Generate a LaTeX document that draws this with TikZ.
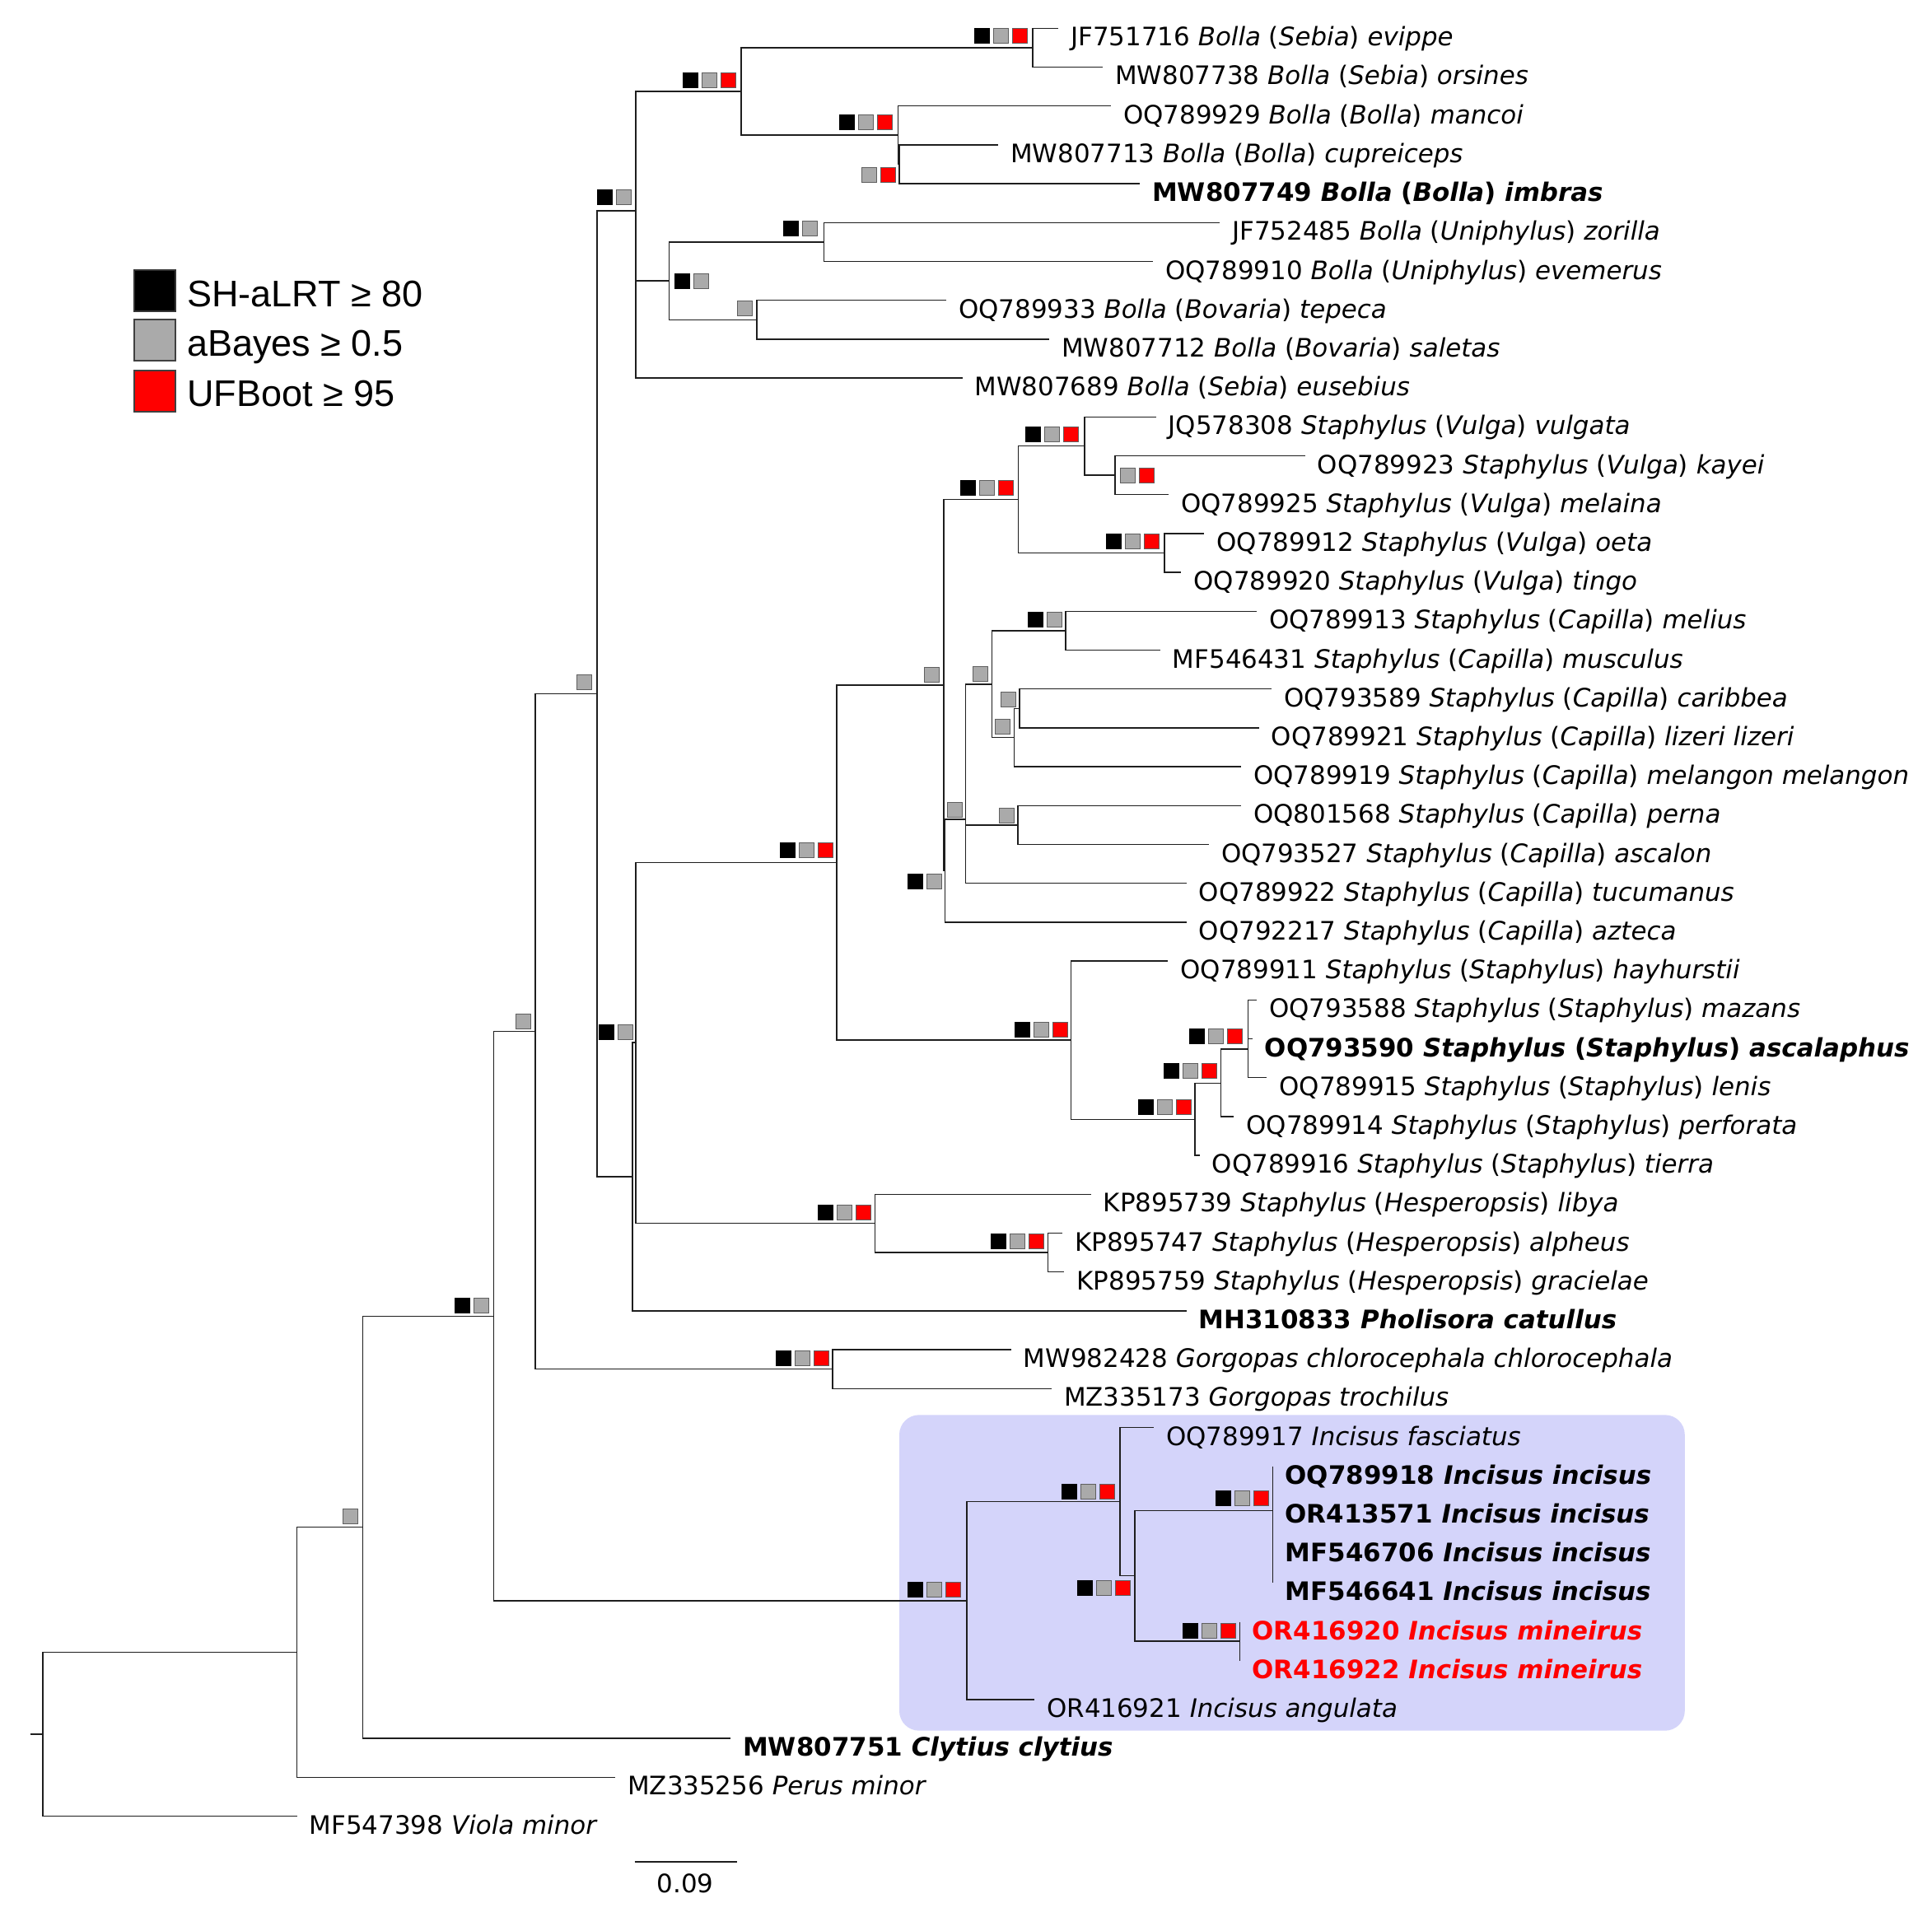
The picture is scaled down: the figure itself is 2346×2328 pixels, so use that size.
\documentclass[tikz,border=0pt]{standalone}
\usepackage{fontspec}
\setmainfont{DejaVu Sans}
\newfontfamily\legfont{Liberation Sans}
\definecolor{linec}{RGB}{30,30,30}
\definecolor{boxc}{RGB}{212,212,250}
\definecolor{sqgray}{RGB}{170,170,170}
\definecolor{sqedge}{RGB}{95,95,95}
\definecolor{tred}{RGB}{255,0,0}
\newcommand\bx[3]{\filldraw[#3] (#1,#2) rectangle ++(18,18);}
\newcommand\sKGR[2]{\bx{#1}{#2}{sk}\bx{#1+23}{#2}{sg}\bx{#1+46}{#2}{sr}}
\newcommand\sKG[2]{\bx{#1}{#2}{sk}\bx{#1+23}{#2}{sg}}
\newcommand\sGR[2]{\bx{#1}{#2}{sg}\bx{#1+23}{#2}{sr}}
\newcommand\sG[2]{\bx{#1}{#2}{sg}}
\newcommand\tip[4]{\coordinate (#1) at (#2,#3);\node[lab] (#1l) at (#2+15,#3+21.5) {#4};}
\newcommand\tx[4]{#1 \textit{#2} (\textit{#3}) \textit{#4}}
\newcommand\tb[2]{#1 \textit{#2}}
\begin{document}
\begin{tikzpicture}[x=1pt,y=-1pt,
  br/.style={line width=1.5pt, draw=linec},
  lab/.style={anchor=base west, inner sep=0pt, font={\fontsize{30.9}{36}\selectfont}},
  sk/.style={fill=black, draw=black, line width=1pt},
  sg/.style={fill=sqgray, draw=sqedge, line width=1pt},
  sr/.style={fill=red, draw=sqedge, line width=1pt},
  lk/.style={fill=black, draw=black!80, line width=2pt},
  lg/.style={fill=sqgray, draw=black!75, line width=2pt},
  lr/.style={fill=red, draw=black!75, line width=2pt},
  legt/.style={anchor=base west, inner sep=0pt, font={\legfont\fontsize{45}{52}\selectfont}}]
\useasboundingbox (0,0) rectangle (2346,2328);
\fill[boxc, rounded corners=24pt] (1092,1718.3) rectangle (2045.8,2101.7);

% internal nodes
\coordinate (R0) at (36.6,2106);
\coordinate (R) at (51.8,2106);
\coordinate (A) at (360.7,2006.5);
\coordinate (B) at (440.6,1854.7);
\coordinate (C) at (599.6,1598.3);
\coordinate (D) at (650,1252.6);
\coordinate (E) at (725,842.5);
\coordinate (F) at (772,256);
\coordinate (F1) at (900,111);
\coordinate (SE) at (1254,57.9);
\coordinate (BB) at (1090.5,164.1);
\coordinate (BB2) at (1092,199.5);
\coordinate (U) at (812.6,341.1);
\coordinate (UN) at (1000.6,293.9);
\coordinate (BO) at (919,388.3);
\coordinate (G) at (768,1429);
\coordinate (H) at (772,1266);
\coordinate (BS) at (1016,1047.4);
\coordinate (VC) at (1146,831.8);
\coordinate (V) at (1236.7,606.6);
\coordinate (V1) at (1316.8,541.7);
\coordinate (V2) at (1354,577.1);
\coordinate (V3) at (1413.8,671.5);
\coordinate (X) at (1147.5,1057.5);
\coordinate (Y) at (1172.4,995);
\coordinate (C0) at (1204.6,831);
\coordinate (C1) at (1293.9,765.9);
\coordinate (C2) at (1231.6,895.7);
\coordinate (C3) at (1237.8,860.3);
\coordinate (PA) at (1236,1001.9);
\coordinate (S0) at (1300.7,1263);
\coordinate (S1) at (1451,1359.4);
\coordinate (S2) at (1482.7,1315.7);
\coordinate (S3) at (1515.3,1274);
\coordinate (HE) at (1062.5,1485.7);
\coordinate (HE2) at (1272.3,1521.1);
\coordinate (GO) at (1011.2,1662.7);
\coordinate (I0) at (1173.9,1944);
\coordinate (I1) at (1360,1823.4);
\coordinate (I2) at (1378,1913.7);
\coordinate (I3) at (1545.5,1834.3);
\coordinate (I4) at (1505.4,1993.1);

% tips
\tip{t1}{1285}{34.3}{\tx{JF751716}{Bolla}{Sebia}{evippe}}
\tip{t2}{1339}{81.5}{\tx{MW807738}{Bolla}{Sebia}{orsines}}
\tip{t3}{1349}{128.7}{\tx{OQ789929}{Bolla}{Bolla}{mancoi}}
\tip{t4}{1212}{175.9}{\tx{MW807713}{Bolla}{Bolla}{cupreiceps}}
\tip{t5}{1384}{223.1}{\bfseries\tx{MW807749}{Bolla}{Bolla}{imbras}}
\tip{t6}{1481}{270.3}{\tx{JF752485}{Bolla}{Uniphylus}{zorilla}}
\tip{t7}{1400}{317.5}{\tx{OQ789910}{Bolla}{Uniphylus}{evemerus}}
\tip{t8}{1149}{364.7}{\tx{OQ789933}{Bolla}{Bovaria}{tepeca}}
\tip{t9}{1274}{411.9}{\tx{MW807712}{Bolla}{Bovaria}{saletas}}
\tip{t10}{1168.5}{459.1}{\tx{MW807689}{Bolla}{Sebia}{eusebius}}
\tip{t11}{1403.6}{506.3}{\tx{JQ578308}{Staphylus}{Vulga}{vulgata}}
\tip{t12}{1584.7}{553.5}{\tx{OQ789923}{Staphylus}{Vulga}{kayei}}
\tip{t13}{1418.9}{600.7}{\tx{OQ789925}{Staphylus}{Vulga}{melaina}}
\tip{t14}{1462.2}{647.9}{\tx{OQ789912}{Staphylus}{Vulga}{oeta}}
\tip{t15}{1434.2}{695.1}{\tx{OQ789920}{Staphylus}{Vulga}{tingo}}
\tip{t16}{1526}{742.3}{\tx{OQ789913}{Staphylus}{Capilla}{melius}}
\tip{t17}{1408.7}{789.5}{\tx{MF546431}{Staphylus}{Capilla}{musculus}}
\tip{t18}{1543.9}{836.7}{\tx{OQ793589}{Staphylus}{Capilla}{caribbea}}
\tip{t19}{1528.6}{883.9}{\tx{OQ789921}{Staphylus}{Capilla}{lizeri lizeri}}
\tip{t20}{1507}{931.1}{\tx{OQ789919}{Staphylus}{Capilla}{melangon melangon}}
\tip{t21}{1507}{978.3}{\tx{OQ801568}{Staphylus}{Capilla}{perna}}
\tip{t22}{1467.8}{1025.5}{\tx{OQ793527}{Staphylus}{Capilla}{ascalon}}
\tip{t23}{1440.6}{1072.7}{\tx{OQ789922}{Staphylus}{Capilla}{tucumanus}}
\tip{t24}{1440.6}{1119.9}{\tx{OQ792217}{Staphylus}{Capilla}{azteca}}
\tip{t25}{1418.3}{1167.1}{\tx{OQ789911}{Staphylus}{Staphylus}{hayhurstii}}
\tip{t26}{1526}{1214.3}{\tx{OQ793588}{Staphylus}{Staphylus}{mazans}}
\tip{t27}{1520.7}{1261.5}{\bfseries\tx{OQ793590}{Staphylus}{Staphylus}{ascalaphus}}
\tip{t28}{1538.3}{1308.7}{\tx{OQ789915}{Staphylus}{Staphylus}{lenis}}
\tip{t29}{1498.3}{1355.9}{\tx{OQ789914}{Staphylus}{Staphylus}{perforata}}
\tip{t30}{1456.7}{1403.1}{\tx{OQ789916}{Staphylus}{Staphylus}{tierra}}
\tip{t31}{1324.6}{1450.3}{\tx{KP895739}{Staphylus}{Hesperopsis}{libya}}
\tip{t32}{1290.2}{1497.5}{\tx{KP895747}{Staphylus}{Hesperopsis}{alpheus}}
\tip{t33}{1292.4}{1544.7}{\tx{KP895759}{Staphylus}{Hesperopsis}{gracielae}}
\tip{t34}{1440.6}{1591.9}{\bfseries\tb{MH310833}{Pholisora catullus}}
\tip{t35}{1227.7}{1639.1}{\tb{MW982428}{Gorgopas chlorocephala chlorocephala}}
\tip{t36}{1276.8}{1686.3}{\tb{MZ335173}{Gorgopas trochilus}}
\tip{t37}{1401}{1733.5}{\tb{OQ789917}{Incisus fasciatus}}
\tip{t38}{1545.5}{1780.7}{\bfseries\tb{OQ789918}{Incisus incisus}}
\tip{t39}{1545.5}{1827.9}{\bfseries\tb{OR413571}{Incisus incisus}}
\tip{t40}{1545.5}{1875.1}{\bfseries\tb{MF546706}{Incisus incisus}}
\tip{t41}{1545.5}{1922.3}{\bfseries\tb{MF546641}{Incisus incisus}}
\tip{t42}{1505.4}{1969.5}{\color{tred}\bfseries\tb{OR416920}{Incisus mineirus}}
\tip{t43}{1505.4}{2016.7}{\color{tred}\bfseries\tb{OR416922}{Incisus mineirus}}
\tip{t44}{1256}{2063.9}{\tb{OR416921}{Incisus angulata}}
\tip{t45}{887}{2111.1}{\bfseries\tb{MW807751}{Clytius clytius}}
\tip{t46}{747}{2158.3}{\tb{MZ335256}{Perus minor}}
\tip{t47}{360.7}{2205.5}{\tb{MF547398}{Viola minor}}

% branches
\draw[br] (R0) -- (R);
\draw[br] (R) |- (A); \draw[br] (R) |- (t47);
\draw[br] (A) |- (B); \draw[br] (A) |- (t46);
\draw[br] (B) |- (C); \draw[br] (B) |- (t45);
\draw[br] (C) |- (D); \draw[br] (C) |- (I0);
\draw[br] (D) |- (E); \draw[br] (D) |- (GO);
\draw[br] (E) |- (F); \draw[br] (E) |- (G);
\draw[br] (F) |- (F1); \draw[br] (F) |- (U); \draw[br] (F) |- (t10);
\draw[br] (F1) |- (SE); \draw[br] (F1) |- (BB);
\draw[br] (SE) |- (t1); \draw[br] (SE) |- (t2);
\draw[br] (BB) |- (t3); \draw[br] (BB) |- (BB2);
\draw[br] (BB2) |- (t4); \draw[br] (BB2) |- (t5);
\draw[br] (U) |- (UN); \draw[br] (U) |- (BO);
\draw[br] (UN) |- (t6); \draw[br] (UN) |- (t7);
\draw[br] (BO) |- (t8); \draw[br] (BO) |- (t9);
\draw[br] (G) |- (H); \draw[br] (G) |- (t34);
\draw[br] (H) |- (BS); \draw[br] (H) |- (HE);
\draw[br] (BS) |- (VC); \draw[br] (BS) |- (S0);
\draw[br] (VC) |- (V); \draw[br] (VC) |- (X);
\draw[br] (V) |- (V1); \draw[br] (V) |- (V3);
\draw[br] (V1) |- (t11); \draw[br] (V1) |- (V2);
\draw[br] (V2) |- (t12); \draw[br] (V2) |- (t13);
\draw[br] (V3) |- (t14); \draw[br] (V3) |- (t15);
\draw[br] (X) |- (Y); \draw[br] (X) |- (t24);
\draw[br] (Y) |- (C0); \draw[br] (Y) |- (PA); \draw[br] (Y) |- (t23);
\draw[br] (C0) |- (C1); \draw[br] (C0) |- (C2);
\draw[br] (C1) |- (t16); \draw[br] (C1) |- (t17);
\draw[br] (C2) |- (C3); \draw[br] (C2) |- (t20);
\draw[br] (C3) |- (t18); \draw[br] (C3) |- (t19);
\draw[br] (PA) |- (t21); \draw[br] (PA) |- (t22);
\draw[br] (S0) |- (t25); \draw[br] (S0) |- (S1);
\draw[br] (S1) |- (S2); \draw[br] (S1) |- (t30);
\draw[br] (S2) |- (S3); \draw[br] (S2) |- (t29);
\draw[br] (S3) |- (t26); \draw[br] (S3) |- (t27); \draw[br] (S3) |- (t28);
\draw[br] (HE) |- (t31); \draw[br] (HE) |- (HE2);
\draw[br] (HE2) |- (t32); \draw[br] (HE2) |- (t33);
\draw[br] (GO) |- (t35); \draw[br] (GO) |- (t36);
\draw[br] (I0) |- (I1); \draw[br] (I0) |- (t44);
\draw[br] (I1) |- (t37); \draw[br] (I1) |- (I2);
\draw[br] (I2) |- (I3); \draw[br] (I2) |- (I4);
\draw[br] (t38) -- (t41);
\draw[br] (t42) -- (t43);

% support squares
\sKGR{1183.3}{34.3}
\sKGR{829}{88.3}
\sKGR{1019.7}{139.3}
\sGR{1046.5}{203.7}
\sKG{725}{231}
\sKG{951.3}{268.3}
\sKG{819.8}{332.3}
\sG{895.4}{365.7}
\sG{700}{819}
\sKGR{1166.3}{583.3}
\sKGR{1245.4}{518.3}
\sGR{1360.7}{568.7}
\sKGR{1343.4}{648.3}
\sKG{1248.5}{743.3}
\sG{1181.6}{809}
\sG{1122.4}{810}
\sG{1215.3}{840}
\sG{1208.7}{873.3}
\sG{1150}{974}
\sG{1213}{981.7}
\sKG{1102}{1061}
\sKGR{947.5}{1023.5}
\sKG{727.7}{1244}
\sG{626}{1231}
\sKGR{1232.3}{1241.3}
\sKGR{1444}{1249}
\sKGR{1413}{1291}
\sKGR{1382.3}{1335.7}
\sKGR{993.2}{1463.3}
\sKGR{1203}{1498.3}
\sKG{552}{1576}
\sKGR{942}{1640}
\sG{416.5}{1832.6}
\sKGR{1289.7}{1802.7}
\sKGR{1476.6}{1810}
\sKGR{1102.9}{1921}
\sKGR{1308.5}{1919}
\sKGR{1436.4}{1971.7}

% scale bar
\coordinate (sb1) at (770.5,2260.8);
\coordinate (sb2) at (894.7,2260.8);
\draw[br] (sb1) -- (sb2);
\node[lab, anchor=center] (sbl) at (832,2287) {0.09};

% legend
\filldraw[lk] (163.3,328.3) rectangle (213.3,378.3);
\filldraw[lg] (163.3,388.3) rectangle (213.3,438.3);
\filldraw[lr] (163.3,449.5) rectangle (213.3,499.5);
\node[legt] (l1) at (227,372) {SH-aLRT ≥ 80};
\node[legt] (l2) at (227,432.5) {aBayes ≥ 0.5};
\node[legt] (l3) at (227,493) {UFBoot ≥ 95};
\end{tikzpicture}
\end{document}
